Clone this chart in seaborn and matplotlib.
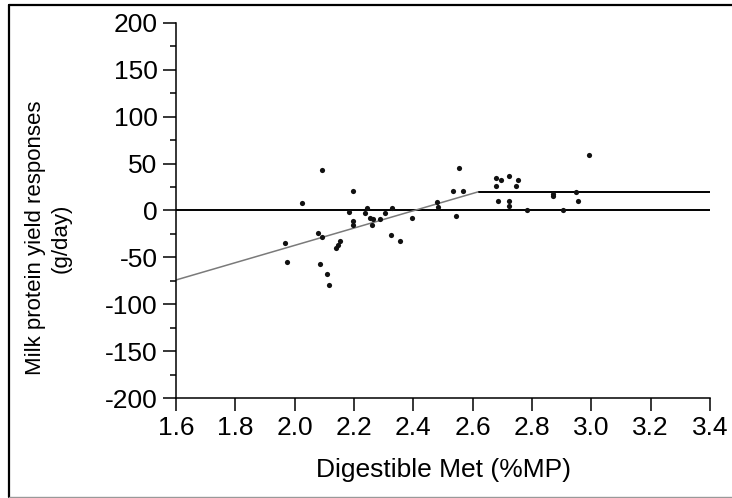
import matplotlib
matplotlib.use("Agg")
import matplotlib.pyplot as plt
from matplotlib.lines import Line2D
from matplotlib.ticker import MultipleLocator, FixedLocator
import pandas as pd
import seaborn as sns

# Digestible Met supply (% of metabolisable protein) and milk protein yield response (g/day)
met = [1.967, 1.973, 2.026, 2.078, 2.093, 2.093, 2.085, 2.108, 2.117,
       2.138, 2.145, 2.153, 2.184, 2.198, 2.198, 2.198,
       2.243, 2.237, 2.254, 2.265, 2.260, 2.288, 2.304, 2.327,
       2.325, 2.355, 2.394, 2.479, 2.484,
       2.543, 2.535, 2.566, 2.555,
       2.678, 2.694, 2.723, 2.754, 2.678, 2.746,
       2.686, 2.722, 2.722, 2.784,
       2.872, 2.872, 2.903, 2.947, 2.956, 2.993]
response = [-35, -55, 8, -24, -28, 43, -57, -68, -79,
            -40, -37, -33, -2, 21, -11, -15,
            3, -3, -8, -9, -15, -9, -3, 3,
            -26, -33, -8, 9, 4,
            -6, 21, 21, 45,
            35, 32, 37, 32, 26, 26,
            10, 10, 5, 1,
            18, 15, 1, 20, 10, 59]

# Broken-line (linear-plateau) fit and the zero-response reference line
fit_x = [1.6, 2.62, 3.4]
fit_y = [-74, 20, 20]
zero_x = [1.6, 3.4]
zero_y = [0, 0]

x_ticks = [1.6, 1.8, 2.0, 2.2, 2.4, 2.6, 2.8, 3.0, 3.2, 3.4]
x_tick_labels = ["1.6", "1.8", "2.0", "2.2", "2.4", "2.6", "2.8", "3.0", "3.2", "3.4"]
y_ticks = [-200, -150, -100, -50, 0, 50, 100, 150, 200]
y_tick_labels = ["-200", "-150", "-100", "-50", "0", "50", "100", "150", "200"]

sns.set_theme(style="ticks")
plt.rcParams["font.family"] = ["Liberation Sans", "DejaVu Sans"]

W, H = 732, 498
fig = plt.figure(figsize=(W / 100, H / 100), dpi=100)
fig.patch.set_facecolor("white")

ax_left, ax_right, ax_top, ax_bottom = 176, 710, 22.7, 398.3
ax = fig.add_axes([ax_left / W, 1 - ax_bottom / H,
                   (ax_right - ax_left) / W, (ax_bottom - ax_top) / H])
ax.set_facecolor("white")

df = pd.DataFrame({"met": met, "response": response})

sns.lineplot(x=zero_x, y=zero_y, ax=ax, color="black", linewidth=1.4,
             estimator=None, sort=False)
sns.lineplot(x=fit_x[:2], y=fit_y[:2], ax=ax, color="#7a7a7a", linewidth=1.1,
             estimator=None, sort=False)
sns.lineplot(x=fit_x[1:], y=fit_y[1:], ax=ax, color="black", linewidth=1.4,
             estimator=None, sort=False)
sns.scatterplot(data=df, x="met", y="response", ax=ax, color="#111111",
                marker="o", s=14, linewidth=0, zorder=5)

ax.set_xlim(1.6, 3.4)
ax.set_ylim(-200, 200)
ax.xaxis.set_major_locator(FixedLocator(x_ticks))
ax.set_xticklabels(x_tick_labels)
ax.yaxis.set_major_locator(FixedLocator(y_ticks))
ax.set_yticklabels(y_tick_labels)
ax.yaxis.set_minor_locator(MultipleLocator(25))
ax.set_xlabel("")
ax.set_ylabel("")

for side in ("top", "right"):
    ax.spines[side].set_visible(False)
for side in ("left", "bottom"):
    ax.spines[side].set_linewidth(1.1)
    ax.spines[side].set_color("black")

ax.tick_params(axis="both", which="major", direction="out", length=9.4,
               width=1.1, color="black", labelsize=19, labelcolor="black")
ax.tick_params(axis="x", which="major", pad=3)
ax.tick_params(axis="y", which="major", pad=4)
ax.tick_params(axis="y", which="minor", direction="out", length=4,
               width=1.1, color="black")

fig.text(444 / W, 1 - 470 / H, "Digestible Met (%MP)", ha="center", va="center",
         fontsize=19, color="black")
fig.text(48 / W, 1 - 238 / H, "Milk protein yield responses\n(g/day)",
         rotation=90, ha="center", va="center", fontsize=16,
         linespacing=1.3, multialignment="center", color="black")

# Outer frame of the figure panel
fig.add_artist(Line2D([9 / W, 9 / W], [1 - 497 / H, 1 - 5.5 / H],
                      transform=fig.transFigure, color="black", linewidth=1.6))
fig.add_artist(Line2D([9 / W, 1.0], [1 - 5.5 / H, 1 - 5.5 / H],
                      transform=fig.transFigure, color="black", linewidth=1.6))
fig.add_artist(Line2D([9 / W, 1.0], [1 - 496.8 / H, 1 - 496.8 / H],
                      transform=fig.transFigure, color="#999999", linewidth=1.0))

fig.savefig("out.png", dpi=100, facecolor="white")
